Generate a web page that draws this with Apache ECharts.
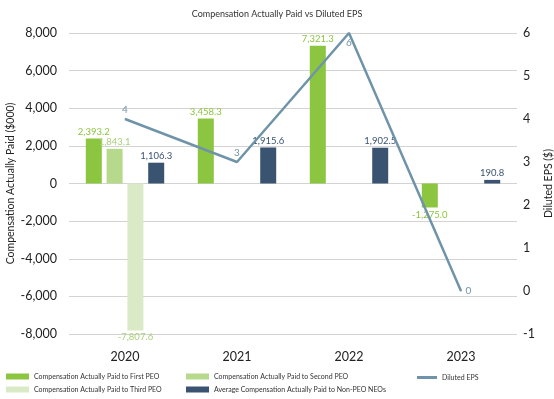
<!DOCTYPE html>
<html>
<head>
<meta charset="utf-8">
<script src="https://cdn.jsdelivr.net/npm/echarts@6/dist/echarts.min.js"></script>
<style>
  html, body { margin: 0; padding: 0; background: #fff; }
  #chart { width: 554px; height: 399px; }
</style>
</head>
<body>
<div id="chart"></div>
<script>
// data
var years = ['2020', '2021', '2022', '2023'];
var firstPEO = [2393.2, 3458.3, 7321.3, -1275.0];
var secondPEO = [1843.1, null, null, null];
var thirdPEO = [-7807.6, null, null, null];
var nonPEO = [1106.3, 1915.6, 1902.5, 190.8];
var dilutedEPS = [4, 3, 6, 0];
var epsLabelPos = ['top', 'top', 'bottom', 'right'];

var FONT = 'Lato, "Open Sans", sans-serif';

function fmt(v){
  return v.toLocaleString('en-US', {minimumFractionDigits: 1, maximumFractionDigits: 1});
}

function bar_series(name, values, color, labelColor){
  var items = [];
  for(var i=0;i<values.length;i++){
    if(values[i]==null){ items.push(null); continue; }
    items.push({value: values[i], label: {position: values[i] < 0 ? 'bottom' : 'top'}});
  }
  return {
    name: name, type: 'bar', yAxisIndex: 0,
    barGap: '30%', barCategoryGap: '30%',
    itemStyle: {color: color},
    label: {show: true, color: labelColor, fontSize: 9.5, fontFamily: FONT, distance: 2,
            formatter: function(p){ return fmt(p.value); }},
    data: items
  };
}

function legend_item(name, left, top, h, w){
  return {left: left, top: top, padding: 0, itemWidth: w || 23, itemHeight: h || 6, icon: 'rect',
          textStyle: {fontSize: 7, color: '#333', fontFamily: FONT}, data: [name]};
}

var lineData = [];
for(var i=0;i<dilutedEPS.length;i++){
  lineData.push({value: dilutedEPS[i], label: {position: epsLabelPos[i]}});
}

var chart = echarts.init(document.getElementById('chart'));
var option = {
  animation: false,
  textStyle: {fontFamily: FONT},
  title: {
    text: 'Compensation Actually Paid vs Diluted EPS',
    left: 'center', top: 5,
    textStyle: {fontSize: 9, fontWeight: 'normal', color: '#333', fontFamily: FONT}
  },
  legend: [
    legend_item('Compensation Actually Paid to First PEO', 6, 373),
    legend_item('Compensation Actually Paid to Third PEO', 6, 386),
    legend_item('Compensation Actually Paid to Second PEO', 186, 373),
    legend_item('Average Compensation Actually Paid to Non-PEO NEOs', 186, 386),
    legend_item('Diluted EPS', 417, 374, 3, 20)
  ],
  grid: {left: 69, right: 37, top: 33, bottom: 65, containLabel: false, outerBoundsMode: 'none'},
  xAxis: {
    type: 'category', data: years,
    axisLine: {show: false}, axisTick: {show: false},
    axisLabel: {color: '#222', fontSize: 12.5, margin: 16}
  },
  yAxis: [
    {type: 'value', min: -8000, max: 8000, interval: 2000,
     name: 'Compensation Actually Paid ($000)', nameLocation: 'middle', nameGap: 53,
     nameMoveOverlap: false,
     nameTextStyle: {fontSize: 10.5, color: '#222'},
     axisLine: {show: false}, axisTick: {show: false},
     axisLabel: {color: '#222', fontSize: 12.5, margin: 12,
                 formatter: function(v){ return v.toLocaleString('en-US'); }},
     splitLine: {lineStyle: {color: '#d3d3d3'}}},
    {type: 'value', min: -1, max: 6, interval: 1,
     name: 'Diluted EPS ($)', nameLocation: 'middle', nameGap: 26, nameRotate: 90,
     nameMoveOverlap: false,
     nameTextStyle: {fontSize: 10.5, color: '#222'},
     axisLine: {show: false}, axisTick: {show: false},
     axisLabel: {color: '#222', fontSize: 12.5, margin: 6},
     splitLine: {show: false}}
  ],
  series: [
    bar_series('Compensation Actually Paid to First PEO', firstPEO, '#8cc53f', '#8cc53f'),
    bar_series('Compensation Actually Paid to Second PEO', secondPEO, '#b6d98c', '#a9d07a'),
    bar_series('Compensation Actually Paid to Third PEO', thirdPEO, '#dbeac6', '#a9d07a'),
    bar_series('Average Compensation Actually Paid to Non-PEO NEOs', nonPEO, '#3a5370', '#3a5370'),
    {name: 'Diluted EPS', type: 'line', yAxisIndex: 1, data: lineData,
     symbol: 'circle', symbolSize: 1, showSymbol: true,
     lineStyle: {color: '#6f94aa', width: 2.5}, itemStyle: {color: '#6f94aa'},
     label: {show: true, color: '#6f94aa', fontSize: 10, distance: 4}}
  ]
};
chart.setOption(option);
</script>
</body>
</html>
